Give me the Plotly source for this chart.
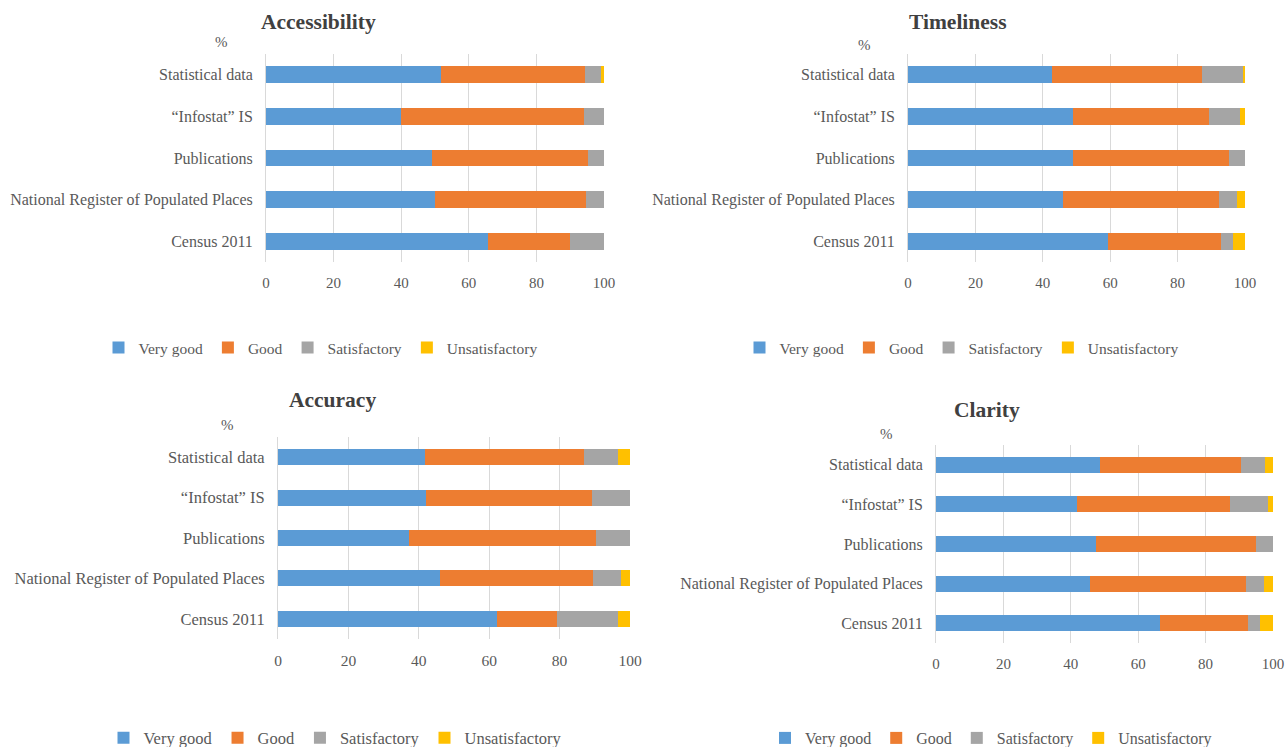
import plotly.graph_objects as go

W, H = 1287, 747

categories = ["Statistical data", "\u201cInfostat\u201d IS", "Publications",
              "National Register of Populated Places", "Census 2011"]
series_names = ["Very good", "Good", "Satisfactory", "Unsatisfactory"]
colors = ["#5B9BD5", "#ED7D31", "#A5A5A5", "#FFC000"]
x_ticks = [0, 20, 40, 60, 80, 100]

# values per panel: rows follow `categories`
accessibility_very_good = [51.7, 39.9, 49.0, 49.9, 65.6]
accessibility_good = [42.8, 54.1, 46.3, 44.9, 24.4]
accessibility_satisfactory = [4.7, 6.0, 4.7, 5.2, 10.0]
accessibility_unsatisfactory = [0.8, 0.0, 0.0, 0.0, 0.0]

timeliness_very_good = [42.7, 49.1, 49.1, 45.9, 59.3]
timeliness_good = [44.4, 40.3, 46.2, 46.4, 33.5]
timeliness_satisfactory = [12.2, 9.1, 4.7, 5.2, 3.5]
timeliness_unsatisfactory = [0.7, 1.5, 0.0, 2.5, 3.7]

accuracy_very_good = [41.7, 42.1, 37.2, 45.9, 62.3]
accuracy_good = [45.3, 47.0, 53.0, 43.5, 17.0]
accuracy_satisfactory = [9.6, 10.9, 9.8, 8.0, 17.3]
accuracy_unsatisfactory = [3.4, 0.0, 0.0, 2.6, 3.4]

clarity_very_good = [48.8, 41.9, 47.5, 45.8, 66.6]
clarity_good = [41.8, 45.4, 47.5, 46.3, 26.0]
clarity_satisfactory = [7.1, 11.2, 5.0, 5.2, 3.6]
clarity_unsatisfactory = [2.3, 1.5, 0.0, 2.7, 3.8]

panel_titles = ["Accessibility", "Timeliness", "Accuracy", "Clarity"]
panel_data = [
    [accessibility_very_good, accessibility_good, accessibility_satisfactory, accessibility_unsatisfactory],
    [timeliness_very_good, timeliness_good, timeliness_satisfactory, timeliness_unsatisfactory],
    [accuracy_very_good, accuracy_good, accuracy_satisfactory, accuracy_unsatisfactory],
    [clarity_very_good, clarity_good, clarity_satisfactory, clarity_unsatisfactory],
]

# layout in pixels
panels_px = [
    dict(x0=266, x1=604, yt=54, yb=262, title=(318, 22), pct=(222, 42), leg=(321, 348),
         legfs=15.5, yfs=16, xfs=15),
    dict(x0=908, x1=1245, yt=54, yb=262, title=(958, 22), pct=(864, 45), leg=(962, 348),
         legfs=15.5, yfs=16, xfs=15),
    dict(x0=278, x1=630, yt=437, yb=639, title=(332, 400), pct=(227, 425), leg=(335, 738),
         legfs=16.5, yfs=16.5, xfs=15.5),
    dict(x0=936, x1=1273, yt=445, yb=643, title=(987, 410), pct=(886, 434), leg=(991, 738),
         legfs=16, yfs=16, xfs=15),
]

FONT = "Liberation Serif, Times New Roman, serif"
TXT = "#595959"

fig = go.Figure()
layout = dict(
    width=W, height=H, autosize=False,
    margin=dict(l=0, r=0, t=0, b=0, autoexpand=False),
    paper_bgcolor="white", plot_bgcolor="white",
    barmode="stack", bargap=0.6,
    font=dict(family=FONT, color=TXT, size=14),
    annotations=[],
)

for i, (title, data, p) in enumerate(zip(panel_titles, panel_data, panels_px)):
    n = "" if i == 0 else str(i + 1)
    leg = "legend" + n
    for name, vals, col in zip(series_names, data, colors):
        fig.add_trace(go.Bar(
            y=categories, x=vals, name=name, orientation="h",
            marker=dict(color=col, line=dict(width=0)),
            xaxis="x" + n, yaxis="y" + n, legend=leg, showlegend=True,
        ))
    layout["xaxis" + n] = dict(
        domain=[p["x0"] / W, p["x1"] / W], anchor="y" + n, automargin=False,
        range=[0, 100], tickvals=x_ticks, showgrid=True, gridcolor="#D9D9D9",
        gridwidth=1, zeroline=False, showline=False, ticks="",
        ticklabelstandoff=10, tickfont=dict(family=FONT, color=TXT, size=p["xfs"]),
        fixedrange=True,
    )
    layout["yaxis" + n] = dict(
        domain=[1 - p["yb"] / H, 1 - p["yt"] / H], anchor="x" + n, automargin=False,
        categoryorder="array", categoryarray=categories, autorange="reversed",
        showline=True, linecolor="#D9D9D9", linewidth=1, showgrid=False,
        ticks="", ticklabelstandoff=9,
        tickfont=dict(family=FONT, color=TXT, size=p["yfs"]), fixedrange=True,
    )
    layout[leg] = dict(
        orientation="h", x=p["leg"][0] / W, y=1 - p["leg"][1] / H,
        xanchor="center", yanchor="middle", traceorder="normal",
        font=dict(family=FONT, color=TXT, size=p["legfs"]),
        itemwidth=30, bgcolor="rgba(0,0,0,0)",
    )
    layout["annotations"].append(dict(
        text="<b>" + title + "</b>", x=p["title"][0] / W, y=1 - p["title"][1] / H,
        xref="paper", yref="paper", xanchor="center", yanchor="middle",
        showarrow=False, font=dict(family=FONT, color="#404040", size=21.5),
    ))
    layout["annotations"].append(dict(
        text="%", x=p["pct"][0] / W, y=1 - p["pct"][1] / H,
        xref="paper", yref="paper", xanchor="center", yanchor="middle",
        showarrow=False, font=dict(family=FONT, color=TXT, size=15),
    ))

fig.update_layout(**layout)
fig.write_html("out.html")
